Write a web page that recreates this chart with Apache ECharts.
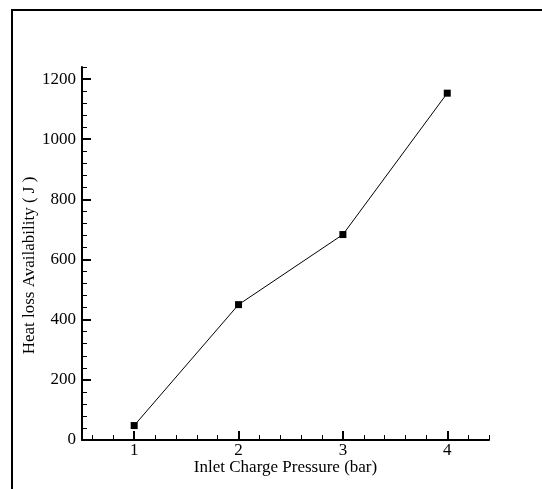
<!DOCTYPE html>
<html><head><meta charset="utf-8">
<script src="https://cdn.jsdelivr.net/npm/echarts@6/dist/echarts.min.js"></script>
<style>html,body{margin:0;padding:0;background:#fff}#c{width:542px;height:489px}</style>
</head><body><div id="c"></div>
<script>
const pressure = [1, 2, 3, 4];
const heatLoss = [48, 450, 683, 1153];
const xMajorTicks = [1, 2, 3, 4];
const xMinorTicks = [0.6, 0.8, 1.2, 1.4, 1.6, 1.8, 2.2, 2.4, 2.6, 2.8, 3.2, 3.4, 3.6, 3.8, 4.2, 4.4];
const yMajorTicks = [0, 200, 400, 600, 800, 1000, 1200];
const yMinorTicks = [40, 80, 120, 160, 240, 280, 320, 360, 440, 480, 520, 560, 640, 680, 720, 760, 840, 880, 920, 960, 1040, 1080, 1120, 1160, 1240];

const FONT = "'Liberation Serif', 'Times New Roman', serif";
const chart = echarts.init(document.getElementById('c'), null, {renderer: 'canvas'});
const baseX = {type: 'value', min: 0.5, max: 4.4, position: 'bottom', splitLine: {show: false}};
const baseY = {type: 'value', min: 0, max: 1240, position: 'left', splitLine: {show: false}};
chart.setOption({
  animation: false,
  backgroundColor: '#fff',
  grid: {left: 82, top: 67, right: 53, bottom: 49},
  graphic: [{
    type: 'rect', z: -1,
    shape: {x: 12, y: 10, width: 540, height: 490},
    style: {fill: 'none', stroke: '#000', lineWidth: 2}
  }],
  xAxis: [
    Object.assign({}, baseX, {
      name: 'Inlet Charge Pressure (bar)', nameLocation: 'middle', nameGap: 19, nameMoveOverlap: false,
      nameTextStyle: {fontFamily: FONT, fontSize: 17, color: '#000'},
      axisLine: {show: true, lineStyle: {color: '#000', width: 2}},
      axisTick: {show: true, inside: true, length: 9, customValues: xMajorTicks, lineStyle: {color: '#000', width: 2}},
      axisLabel: {show: true, customValues: xMajorTicks, margin: 2, fontFamily: FONT, fontSize: 17, color: '#000',
        formatter: v => String(v)}
    }),
    Object.assign({}, baseX, {
      axisLine: {show: false},
      axisTick: {show: true, inside: true, length: 5, customValues: xMinorTicks, lineStyle: {color: '#000', width: 1}},
      axisLabel: {show: false}
    })
  ],
  yAxis: [
    Object.assign({}, baseY, {
      name: 'Heat loss Availability ( J )', nameLocation: 'middle', nameGap: 44, nameMoveOverlap: false,
      nameTextStyle: {fontFamily: FONT, fontSize: 17, color: '#000', padding: [0, 24, 0, 0]},
      axisLine: {show: true, lineStyle: {color: '#000', width: 2}},
      axisTick: {show: true, inside: true, length: 9, customValues: yMajorTicks, lineStyle: {color: '#000', width: 2}},
      axisLabel: {show: true, customValues: yMajorTicks, margin: 6, fontFamily: FONT, fontSize: 17, color: '#000',
        formatter: v => String(v)}
    }),
    Object.assign({}, baseY, {
      axisLine: {show: false},
      axisTick: {show: true, inside: true, length: 5, customValues: yMinorTicks, lineStyle: {color: '#000', width: 1}},
      axisLabel: {show: false}
    })
  ],
  series: [{
    type: 'line', xAxisIndex: 0, yAxisIndex: 0,
    data: pressure.map((p, i) => [p, heatLoss[i]]),
    symbol: 'rect', symbolSize: 7,
    itemStyle: {color: '#000'},
    lineStyle: {color: '#000', width: 1}
  }]
});
</script></body></html>
